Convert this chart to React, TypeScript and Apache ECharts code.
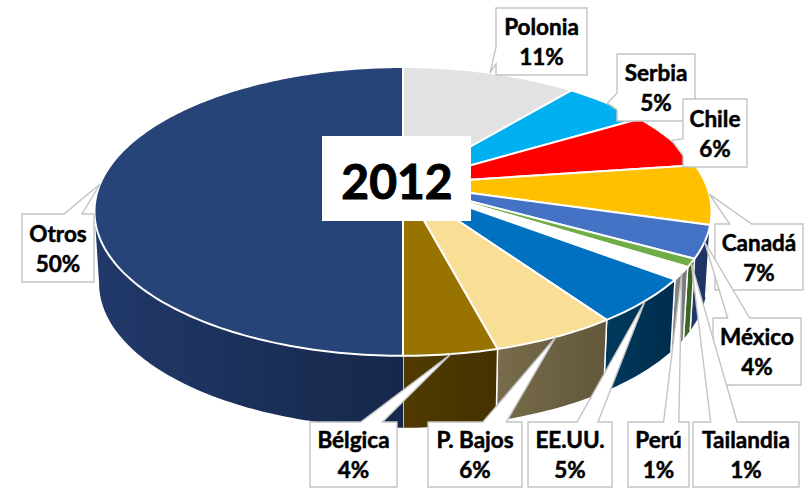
import React, { useEffect, useRef } from "react";
import * as echarts from "echarts";

const categories = ["Polonia", "Serbia", "Chile", "Canadá", "México", "Tailandia", "Perú", "EE.UU.", "P. Bajos", "Bélgica", "Otros"];
const shares = [11, 5.4, 6.4, 6.7, 3.6, 0.9, 1.4, 5.0, 5.5, 4.1, 50];
const yearLabel = "2012";

const topColors = ["#E2E2E2", "#00B0F0", "#FF0000", "#FFC000", "#4472C4", "#70AD47", "#FFFFFF", "#0070C0", "#F9DF95", "#997300", "#264478"];
const wallLeft = ["#888888", "#005F80", "#8A0000", "#7F6000", "#20396A", "#3F6B29", "#8A8A8A", "#003A5E", "#786C4C", "#513A02", "#21396A"];
const wallRight = ["#777777", "#005070", "#700000", "#6F5000", "#1C3260", "#375E22", "#777777", "#002C4C", "#62573A", "#453100", "#16284A"];

// label boxes [x, y, w, h]
const boxes = [
  [496, 8, 91, 67],
  [617, 54, 78, 67],
  [683, 99, 64, 68],
  [715, 224, 88, 66],
  [713, 318, 88, 67],
  [693, 422, 106, 65],
  [628, 422, 61, 65],
  [528, 422, 84, 65],
  [428, 422, 94, 65],
  [310, 422, 87, 65],
  [22, 214, 72, 68],
];
const labelDrawOrder = [0, 1, 2, 3, 4, 5, 6, 7, 8, 9, 10];

const FONT = "Lato, Carlito, sans-serif";
const CX = 403, APEX_Y = 184, A = 302.9, B = 139.2, K = 0.19, DEPTH = 72, SHRINK = 0.985;

const total = shares.reduce((a, b) => a + b, 0);
const starts: number[] = [];
shares.reduce((acc, v, i) => { starts[i] = acc; return acc + v; }, 0);
const toDeg = (v: number) => (v / total) * 360;

function rim(deg: number): [number, number] {
  const t = (deg * Math.PI) / 180;
  const X = Math.sin(t), Y = Math.cos(t);
  const w = 1 + K * Y;
  return [CX + (A * X) / w, APEX_Y - (B * Y) / w];
}
function lower(deg: number): [number, number] {
  const [x, y] = rim(deg);
  return [CX + (x - CX) * SHRINK, y + DEPTH];
}
function arcPoints(a: number, b: number, fn: (d: number) => [number, number]) {
  const n = Math.max(2, Math.ceil(Math.abs(b - a)));
  const pts: [number, number][] = [];
  for (let i = 0; i <= n; i++) pts.push(fn(a + ((b - a) * i) / n));
  return pts;
}
function sliceRange(i: number): [number, number] {
  return [toDeg(starts[i]), toDeg(starts[i] + shares[i])];
}

function callout(box: number[], tip: [number, number]) {
  const [x, y, w, h] = box;
  const dx = tip[0] - (x + w / 2), dy = tip[1] - (y + h / 2);
  const dq = (dx * h) / w;
  const vertical = Math.abs(dy) > Math.abs(dq);
  const xa = dx > 0 ? x + (w * 7) / 12 : x + (w * 2) / 12;
  const xb = dx > 0 ? x + (w * 10) / 12 : x + (w * 5) / 12;
  const ya = dy > 0 ? y + (h * 7) / 12 : y + (h * 2) / 12;
  const yb = dy > 0 ? y + (h * 10) / 12 : y + (h * 5) / 12;
  const pts: [number, number][] = [[x, y]];
  if (vertical && dy < 0) pts.push([xa, y], tip, [xb, y]);
  pts.push([x + w, y]);
  if (!vertical && dx > 0) pts.push([x + w, ya], tip, [x + w, yb]);
  pts.push([x + w, y + h]);
  if (vertical && dy > 0) pts.push([xb, y + h], tip, [xa, y + h]);
  pts.push([x, y + h]);
  if (!vertical && dx < 0) pts.push([x, yb], tip, [x, ya]);
  return pts;
}

const seriesData = shares.map((v, i) => [i, v]);

export default function App() {
  const ref = useRef<HTMLDivElement>(null);
  useEffect(() => {
    const chart = echarts.init(ref.current!, undefined, { renderer: "svg" });
    chart.setOption({
      animation: false,
      backgroundColor: "#FFFFFF",
      tooltip: { show: false },
      series: [
        {
          type: "custom",
          name: "walls",
          coordinateSystem: "none",
          silent: true,
          z: 1,
          data: seriesData,
          renderItem: (_p: any, api: any) => {
            const i = api.value(0);
            const [s, e] = sliceRange(i);
            const a = Math.max(s, 101), b = Math.min(e, 259);
            if (b <= a) return { type: "group", children: [] };
            const up = arcPoints(a, b, rim);
            const low = arcPoints(a, b, lower).reverse();
            const xs = [...up, ...low].map((p) => p[0]);
            const xmin = Math.min(...xs), xmax = Math.max(...xs);
            return {
              type: "group",
              children: [
                {
                  type: "polygon",
                  shape: { points: [...up, ...low] },
                  style: {
                    fill: {
                      type: "linear", global: true,
                      x: xmin, y: 0, x2: xmax, y2: 0,
                      colorStops: [
                        { offset: 0, color: wallLeft[i] },
                        { offset: 1, color: wallRight[i] },
                      ],
                    },
                  },
                },
                {
                  type: "line",
                  shape: { x1: up[0][0], y1: up[0][1], x2: low[low.length - 1][0], y2: low[low.length - 1][1] },
                  style: { stroke: i === shares.length - 1 ? "transparent" : "#FFFFFF", lineWidth: 1.4 },
                },
                {
                  type: "line",
                  shape: { x1: up[up.length - 1][0], y1: up[up.length - 1][1], x2: low[0][0], y2: low[0][1] },
                  style: { stroke: i === shares.length - 1 ? "transparent" : "#FFFFFF", lineWidth: 1.4 },
                },
              ],
            };
          },
        },
        {
          type: "custom",
          name: "tops",
          coordinateSystem: "none",
          silent: true,
          z: 2,
          data: seriesData,
          renderItem: (_p: any, api: any) => {
            const i = api.value(0);
            const [s, e] = sliceRange(i);
            return {
              type: "polygon",
              shape: { points: [[CX, APEX_Y], ...arcPoints(s, e, rim)] },
              style: { fill: topColors[i], stroke: "#FFFFFF", lineWidth: 2, lineJoin: "round" },
            };
          },
        },
        {
          type: "custom",
          name: "year",
          coordinateSystem: "none",
          silent: true,
          z: 3,
          data: [[yearLabel]],
          renderItem: () => ({
            type: "group",
            children: [
              { type: "rect", shape: { x: 322, y: 136, width: 149, height: 85 }, style: { fill: "#FFFFFF" } },
              {
                type: "text",
                style: {
                  text: yearLabel, x: 397, y: 180, align: "center", verticalAlign: "middle",
                  font: `bold 48px ${FONT}`, fill: "#000000", stroke: "#000000", lineWidth: 1,
                },
              },
            ],
          }),
        },
        {
          type: "custom",
          name: "labels",
          coordinateSystem: "none",
          silent: true,
          z: 4,
          data: labelDrawOrder.map((i) => [i, shares[i]]),
          renderItem: (_p: any, api: any) => {
            const i = api.value(0);
            const [s, e] = sliceRange(i);
            const box = boxes[i];
            return {
              type: "group",
              children: [
                {
                  type: "polygon",
                  shape: { points: callout(box, rim((s + e) / 2)) },
                  style: { fill: "#FFFFFF", stroke: "#C4C4C4", lineWidth: 1.4 },
                },
                {
                  type: "text",
                  style: {
                    text: `${categories[i]}\n${Math.round(shares[i])}%`,
                    x: box[0] + box[2] / 2,
                    y: box[1] + box[3] / 2,
                    align: "center",
                    verticalAlign: "middle",
                    lineHeight: 30,
                    font: `bold 22.5px ${FONT}`,
                    fill: "#000000",
                    stroke: "#000000",
                    lineWidth: 0.5,
                  },
                },
              ],
            };
          },
        },
      ],
    });
    return () => chart.dispose();
  }, []);
  return <div ref={ref} style={{ position: "absolute", left: 0, top: 0, width: 807, height: 488 }} />;
}
